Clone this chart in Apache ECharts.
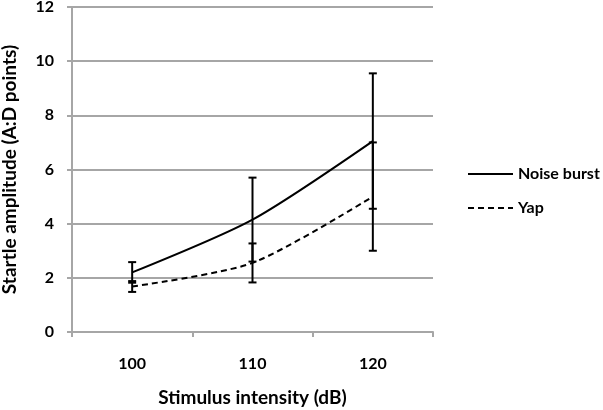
<!DOCTYPE html>
<html><head><meta charset="utf-8">
<script src="https://cdn.jsdelivr.net/npm/echarts@6/dist/echarts.min.js"></script>
<style>html,body{margin:0;padding:0;background:#fff}#c{width:603px;height:410px}</style>
</head><body><div id="c"></div>
<script>
const categories = ['100', '110', '120'];
const noiseMean = [2.2, 4.15, 7.05];
const noiseErr = [0.38, 1.55, 2.5];
const yapMean = [1.68, 2.55, 5.0];
const yapErr = [0.2, 0.72, 2.0];
const yTicks = [0, 2, 4, 6, 8, 10, 12];

const FONT = 'Lato, "Open Sans", sans-serif';
const GREY = '#a6a6a6';

function errData(mean, err) {
  return mean.map((m, i) => [i, m - err[i], m + err[i]]);
}
function errSeries(mean, err) {
  return {
    type: 'custom',
    silent: true,
    z: 5,
    data: errData(mean, err),
    renderItem: function (params, api) {
      const x = api.value(0);
      const lo = api.coord([x, api.value(1)]);
      const hi = api.coord([x, api.value(2)]);
      const hw = 4;
      const st = { stroke: '#000', lineWidth: 2 };
      return {
        type: 'group',
        children: [
          { type: 'line', shape: { x1: lo[0], y1: lo[1], x2: hi[0], y2: hi[1] }, style: st },
          { type: 'line', shape: { x1: lo[0] - hw, y1: lo[1], x2: lo[0] + hw, y2: lo[1] }, style: st },
          { type: 'line', shape: { x1: hi[0] - hw, y1: hi[1], x2: hi[0] + hw, y2: hi[1] }, style: st }
        ]
      };
    }
  };
}

const chart = echarts.init(document.getElementById('c'), null, { renderer: 'canvas' });
chart.setOption({
  animation: false,
  backgroundColor: '#fff',
  grid: { left: 72, right: 170, top: 7, bottom: 78, containLabel: false, outerBoundsMode: 'none' },
  legend: {
    orient: 'vertical',
    left: 462,
    top: 161,
    itemWidth: 45,
    itemHeight: 10,
    itemGap: 18,
    itemStyle: { opacity: 0 },
    textStyle: { fontFamily: FONT, fontWeight: 'bold', fontSize: 16, color: '#000' },
    data: ['Noise burst', 'Yap']
  },
  xAxis: {
    type: 'category',
    data: categories,
    boundaryGap: true,
    name: 'Stimulus intensity (dB)',
    nameLocation: 'middle',
    nameGap: 56,
    nameTextStyle: { fontFamily: FONT, fontWeight: 'bold', fontSize: 19, color: '#000' },
    axisLine: { lineStyle: { color: GREY, width: 2 } },
    axisTick: { show: true, length: 5, lineStyle: { color: GREY, width: 2 } },
    axisLabel: { margin: 24, fontFamily: FONT, fontWeight: 'bold', fontSize: 16, color: '#000' }
  },
  yAxis: {
    type: 'value',
    min: 0, max: 12, interval: 2,
    name: 'Startle amplitude (A:D points)',
    nameLocation: 'middle',
    nameGap: 53,
    nameTextStyle: { fontFamily: FONT, fontWeight: 'bold', fontSize: 19, color: '#000' },
    axisLine: { show: true, lineStyle: { color: GREY, width: 2 } },
    axisTick: { show: true, length: 5, lineStyle: { color: GREY, width: 2 } },
    splitLine: { show: true, lineStyle: { color: GREY, width: 2 } },
    axisLabel: {
      margin: 18, fontFamily: FONT, fontWeight: 'bold', fontSize: 16, color: '#000',
      formatter: v => yTicks.includes(v) ? String(v) : ''
    }
  },
  series: [
    {
      name: 'Noise burst', type: 'line', data: noiseMean, smooth: 0.25,
      symbol: 'none', z: 4,
      lineStyle: { color: '#000', width: 2, type: 'solid' },
      itemStyle: { color: '#000' }
    },
    {
      name: 'Yap', type: 'line', data: yapMean, smooth: 0.25,
      symbol: 'none', z: 4,
      lineStyle: { color: '#000', width: 2, type: [6, 4] },
      itemStyle: { color: '#000' }
    },
    errSeries(noiseMean, noiseErr),
    errSeries(yapMean, yapErr)
  ]
});
</script></body></html>
